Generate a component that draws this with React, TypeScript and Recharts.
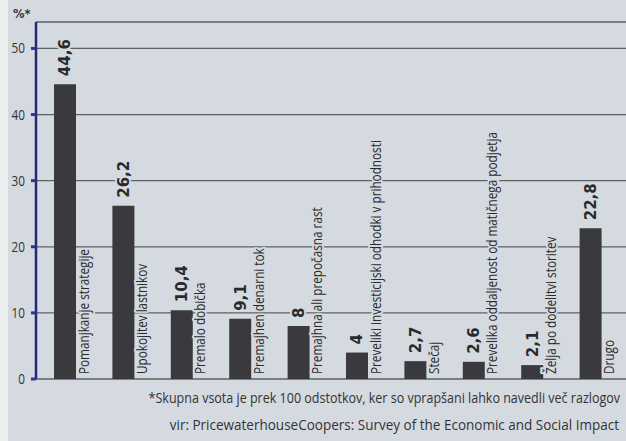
import React from 'react';
import { BarChart, Bar, XAxis, YAxis, CartesianGrid, LabelList } from 'recharts';

const categories = [
  'Pomanjkanje strategije',
  'Upokojitev lastnikov',
  'Premalo dobička',
  'Premajhen denarni tok',
  'Premajhna ali prepočasna rast',
  'Preveliki investicijski odhodki v prihodnosti',
  'Stečaj',
  'Prevelika oddaljenost od matičnega podjetja',
  'Želja po dodelitvi storitev',
  'Drugo',
];
const values = [44.6, 26.2, 10.4, 9.1, 8, 4, 2.7, 2.6, 2.1, 22.8];
const valueLabels = ['44,6', '26,2', '10,4', '9,1', '8', '4', '2,7', '2,6', '2,1', '22,8'];
const yTicks = [0, 10, 20, 30, 40, 50];
const unitLabel = '%*';
const footnote = '*Skupna vsota je prek 100 odstotkov, ker so vprapšani lahko navedli več razlogov';
const source = 'vir: PricewaterhouseCoopers: Survey of the Economic and Social Impact';

const data = categories.map((name, i) => ({ name, value: values[i] }));

const BG = '#d5dae0';
const HUMAN = "'Open Sans', 'Noto Sans', sans-serif";
const SQUEEZE = 0.81;
const NOTE_SQUEEZE = 0.895;
const SOURCE_SQUEEZE = 0.965;

const ValueLabel = (props: any) => {
  const x = Number(props.x);
  const y = Number(props.y);
  const w = Number(props.width);
  const idx = props.index;
  const ax = x + w / 2 + 5.5;
  const ay = y - 8;
  return (
    <text
      x={ax}
      y={ay}
      transform={`rotate(-90 ${ax} ${ay})`}
      fontFamily="'DejaVu Sans', sans-serif"
      fontWeight="bold"
      fontSize={15}
      fill="#2a2a2d"
      stroke={BG}
      strokeWidth={4}
      strokeLinejoin="round"
      paintOrder="stroke"
    >
      {valueLabels[idx]}
    </text>
  );
};

const CategoryLabel = (props: any) => {
  const x = Number(props.x);
  const w = Number(props.width);
  const idx = props.index;
  const ax = x + w + 12.5;
  const ay = 374;
  return (
    <text
      x={0}
      y={0}
      transform={`translate(${ax} ${ay}) rotate(-90) scale(${SQUEEZE} 1)`}
      fontFamily={HUMAN}
      fontSize={14.5}
      fill="#2a2a2d"
      stroke={BG}
      strokeWidth={4}
      strokeLinejoin="round"
      paintOrder="stroke"
    >
      {categories[idx]}
    </text>
  );
};

const YTick = (props: any) => {
  const x = Number(props.x);
  const y = Number(props.y);
  return (
    <text
      x={0}
      y={0}
      dy={5}
      transform={`translate(${x} ${y}) scale(${SQUEEZE} 1)`}
      textAnchor="end"
      fontFamily={HUMAN}
      fontSize={14.5}
      fill="#333336"
    >
      {props.payload.value}
    </text>
  );
};

export default function App() {
  return (
    <div style={{ position: 'absolute', left: 0, top: 0, width: 626, height: 441, background: BG, overflow: 'hidden' }}>
      <div style={{ position: 'absolute', left: 0, top: 0, width: 8, height: 441, background: '#eceeee' }} />
      <BarChart
        width={626}
        height={441}
        data={data}
        margin={{ top: 22, right: 0, bottom: 62, left: 0 }}
        style={{ position: 'absolute', left: 0, top: 0 }}
      >
        <CartesianGrid horizontal vertical={false} stroke="#5d6166" strokeWidth={1.3} />
        <XAxis
          dataKey="name"
          height={0}
          tick={false}
          tickLine={false}
          axisLine={{ stroke: '#1c1c1e', strokeWidth: 3.5 }}
          padding={{ left: 0, right: 6 }}
        />
        <YAxis
          width={36}
          domain={[0, 54]}
          ticks={yTicks}
          interval={0}
          tickSize={5}
          tickMargin={6}
          axisLine={{ stroke: '#25287a', strokeWidth: 2.5 }}
          tickLine={{ stroke: '#2e329a', strokeWidth: 3 }}
          tick={YTick}
        />
        <Bar dataKey="value" fill="#3a3a3e" barSize={22} isAnimationActive={false}>
          <LabelList dataKey="value" content={ValueLabel} />
          <LabelList dataKey="name" content={CategoryLabel} />
        </Bar>
      </BarChart>
      <svg width={626} height={441} style={{ position: 'absolute', left: 0, top: 0, pointerEvents: 'none' }}>
        <text x={13} y={18} fontFamily="'DejaVu Sans', sans-serif" fontWeight="bold" fontSize={11.5} fill="#333336">
          {unitLabel}
        </text>
        <text
          x={0}
          y={0}
          transform={`translate(620 403) scale(${NOTE_SQUEEZE} 1)`}
          textAnchor="end"
          fontFamily={HUMAN}
          fontSize={14}
          fill="#333336"
        >
          {footnote}
        </text>
        <text
          x={0}
          y={0}
          transform={`translate(619 430) scale(${SOURCE_SQUEEZE} 1)`}
          textAnchor="end"
          fontFamily={HUMAN}
          fontSize={14}
          fill="#333336"
        >
          {source}
        </text>
      </svg>
    </div>
  );
}
